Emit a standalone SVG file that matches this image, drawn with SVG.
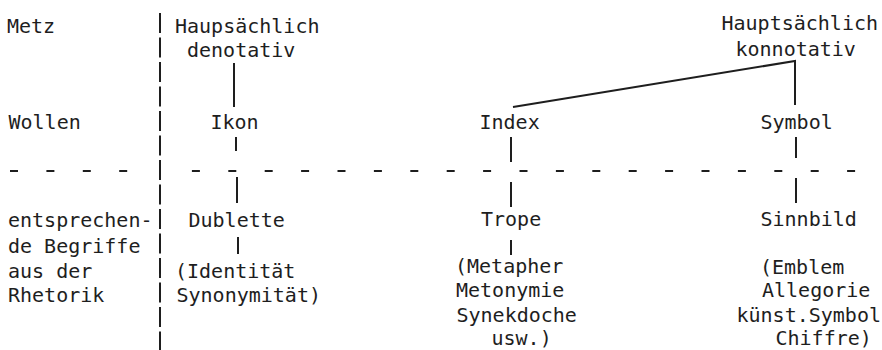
<svg xmlns="http://www.w3.org/2000/svg" width="882" height="350" viewBox="0 0 882 350">
<style>
text{font-family:"DejaVu Sans Mono","Liberation Mono",monospace;font-size:20px;fill:#1e1e1e}
.ln{stroke:#1e1e1e;stroke-width:2;fill:none}
.sep{stroke:#1e1e1e;stroke-width:2;fill:none;stroke-dasharray:20 4.5}
.dash{stroke:#1e1e1e;stroke-width:2;fill:none;stroke-dasharray:8 28.4}
</style>
<rect width="882" height="350" fill="#ffffff"/>
<g id="dividers">
<line class="sep" x1="160" y1="13" x2="160" y2="350"/>
<line class="dash" x1="10" y1="171" x2="130" y2="171"/>
<line class="dash" x1="191.9" y1="171" x2="856" y2="171"/>
</g>
<g id="row-labels">
<text x="7" y="33">Metz</text>
<text x="8.5" y="129">Wollen</text>
<text x="8" y="227">entsprechen-</text>
<text x="8" y="253">de Begriffe</text>
<text x="8" y="278">aus der</text>
<text x="8" y="302">Rhetorik</text>
</g>
<g id="denotativ"><text x="175" y="33">Haupsächlich</text><text x="187" y="57">denotativ</text></g>
<g id="konnotativ"><text x="721.5" y="30">Hauptsächlich</text><text x="735.5" y="55.5">konnotativ</text></g>
<g id="ikon"><text x="210.5" y="129">Ikon</text></g>
<g id="index"><text x="479.5" y="129">Index</text></g>
<g id="symbol"><text x="760.5" y="129">Symbol</text></g>
<g id="dublette"><text x="188.5" y="227">Dublette</text></g>
<g id="trope"><text x="481" y="226">Trope</text></g>
<g id="sinnbild"><text x="760.5" y="226">Sinnbild</text></g>
<g id="dublette-list"><text x="175" y="278">(Identität</text><text x="176.5" y="302">Synonymität)</text></g>
<g id="trope-list"><text x="455" y="273">(Metapher</text><text x="456" y="297">Metonymie</text><text x="456.5" y="321.5">Synekdoche</text><text x="491.5" y="345">usw.)</text></g>
<g id="sinnbild-list"><text x="760" y="274">(Emblem</text><text x="762" y="297">Allegorie</text><text x="736.5" y="321.5">künst.Symbol</text><text x="775.5" y="345">Chiffre)</text></g>
<g id="connectors">
<line class="ln" x1="234" y1="63" x2="234" y2="107"/>
<line class="ln" x1="236" y1="137" x2="236" y2="151"/>
<line class="ln" x1="237" y1="177" x2="237" y2="203"/>
<line class="ln" x1="238" y1="237" x2="238" y2="254"/>
<polyline class="ln" points="513,107 795,61 795,105"/>
<line class="ln" x1="511" y1="137" x2="511" y2="162"/>
<line class="ln" x1="511" y1="182" x2="511" y2="207"/>
<line class="ln" x1="511" y1="240" x2="511" y2="255"/>
<line class="ln" x1="796" y1="137" x2="796" y2="158"/>
<line class="ln" x1="796" y1="178" x2="796" y2="203"/>
</g>
</svg>
